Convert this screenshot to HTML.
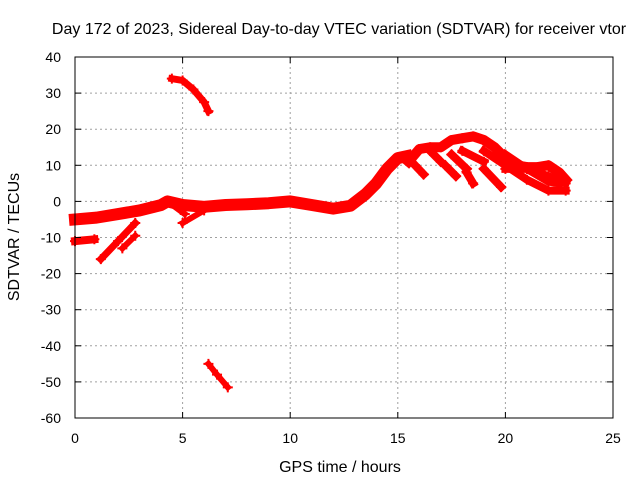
<!DOCTYPE html>
<html><head><meta charset="utf-8"><style>
body{margin:0;background:#fff}
svg{display:block;font-family:"Liberation Sans",sans-serif}
</style></head><body>
<svg id="c" width="640" height="480">
<rect width="640" height="480" fill="#fff"/>
<g id="grid"></g><g id="series"></g><g id="axes"></g>
<text x="339" y="34" font-size="16" text-anchor="middle">Day 172 of 2023, Sidereal Day-to-day VTEC variation (SDTVAR) for receiver vtor</text>
<text x="340" y="472" font-size="16" text-anchor="middle">GPS time / hours</text>
<text x="19" y="237" font-size="16" text-anchor="middle" transform="rotate(-90 19 237)">SDTVAR / TECUs</text>
</svg>
<script>
const xTicks=[0,5,10,15,20,25];
const yTicks=[40,30,20,10,0,-10,-20,-30,-40,-50,-60];
const mainBand=[[0,-5],[1,-4.5],[2,-3.5],[3,-2.5],[4,-1],[4.3,0],[5,-1],[6,-1.5],[7,-1],[8,-0.8],[9,-0.5],[10,0],[11,-1],[12,-2],[12.8,-1.2],[13.5,2],[14,5],[14.5,9],[15,12],[15.4,12.5]];
const lowStart=[[0,-11],[0.9,-10.5]];
const diag1=[[1.2,-16],[2,-11],[2.8,-6]];
const diag2=[[2.2,-13],[2.8,-9.5]];
const branch1=[[4.3,0],[5.1,-3.5]];
const branch2=[[5,-6],[6,-2.5]];
const upperArc=[[4.5,34],[5,33.5],[5.5,31],[6,27.5],[6.2,25]];
const lowerArc=[[6.2,-45],[6.6,-48],[7.1,-51.5]];
const rightTop=[[15.5,11],[16,14.5],[16.5,15],[17,15],[17.5,17],[18,17.5],[18.5,18],[19,17],[19.5,15],[20,12],[20.5,10],[21,9.5],[21.5,9.5],[22,10],[22.5,8],[22.8,6]];
const rightLow=[[19,14],[20,10],[21,6],[22,3],[22.8,3]];
const rightMid=[[20,9],[21,9],[22,7],[22.8,5]];
const rightDiag=[[20,13],[21,9],[22,5.5],[22.5,5]];
const strokes=[[[16.5,14],[17,11]],[[15.8,10],[16.2,7.5]],[[17.5,13],[18.2,9]],[[18,14],[19,11]],[[18.2,8],[18.5,5]],[[19,9],[19.8,4]],[[17.2,10],[17.7,7]]];
const X=h=>75+h*21.52, Y=v=>57+(40-v)*3.61;
const ns="http://www.w3.org/2000/svg";
const g=document.getElementById('grid'),s=document.getElementById('series'),a=document.getElementById('axes');
function el(t,at,p){const e=document.createElementNS(ns,t);for(const k in at)e.setAttribute(k,at[k]);p.appendChild(e);return e;}
xTicks.forEach(t=>{
 if(t>0&&t<25){const l=el('line',{x1:X(t),x2:X(t),y1:57,y2:418,stroke:'#a0a0a0','stroke-dasharray':'2,3'},g);
 
 }
 const tx=el('text',{x:X(t),y:443,'font-size':14,'text-anchor':'middle'},a);tx.textContent=t;
 
 
 el('line',{x1:X(t),x2:X(t),y1:418,y2:412,stroke:'#000'},a);el('line',{x1:X(t),x2:X(t),y1:57,y2:63,stroke:'#000'},a);
});
yTicks.forEach(t=>{
 if(t<40&&t>-60){const l=el('line',{x1:75,x2:613,y1:Y(t),y2:Y(t),stroke:'#a0a0a0','stroke-dasharray':'2,3'},g);
 
 }
 const tx=el('text',{x:61,y:Y(t)+5,'font-size':14,'text-anchor':'end'},a);tx.textContent=t;
 
 
 el('line',{x1:75,x2:81,y1:Y(t),y2:Y(t),stroke:'#000'},a);el('line',{x1:613,x2:607,y1:Y(t),y2:Y(t),stroke:'#000'},a);
});
const fr=el('rect',{x:75,y:57,width:538,height:361,fill:'none',stroke:'#000'},a);


function track(pts,w,name){
 const p=el('polyline',{points:pts.map(q=>X(q[0])+','+Y(q[1])).join(' '),fill:'none',stroke:'#f00','stroke-width':w,'stroke-linejoin':'round','stroke-linecap':'square'},s);
 
 
 pts.forEach(q=>{const m=el('path',{d:`M${X(q[0])-5},${Y(q[1])}h10M${X(q[0])},${Y(q[1])-5}v10`,stroke:'#f00','stroke-width':2},s);
 
 });
}
track(mainBand,12,'main-band');track(lowStart,8,'low-start-track');track(diag1,7,'diag-track-1');track(diag2,6,'diag-track-2');
track(branch1,6,'branch-track-1');track(branch2,6,'branch-track-2');track(upperArc,7,'upper-arc');track(lowerArc,6,'lower-arc');
track(rightTop,10,'right-top-track');track(rightLow,8,'right-low-track');track(rightMid,8,'right-mid-track');track(rightDiag,8,'right-diag-track');
strokes.forEach(t=>track(t,8,'short-stroke'));
</script>
</body></html>
